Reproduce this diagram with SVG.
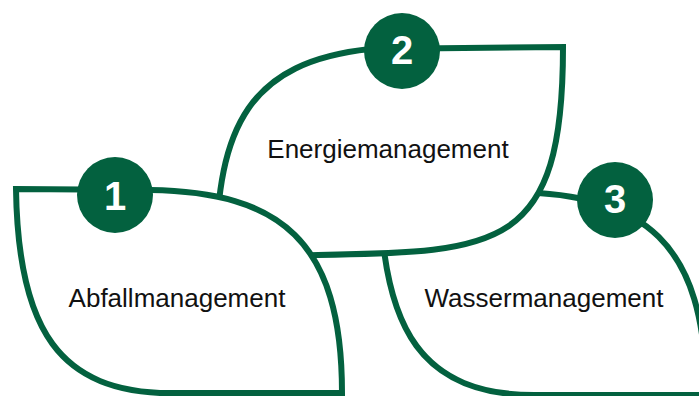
<svg xmlns="http://www.w3.org/2000/svg" width="699" height="396" viewBox="0 0 699 396">
  <style>
    .leaf { fill: #ffffff; stroke: #03613f; stroke-width: 6; stroke-linejoin: miter; }
    .badge { fill: #03613f; }
    .num { font-family: "Liberation Sans", Arial, sans-serif; font-weight: bold; font-size: 40px; fill: #ffffff; text-anchor: middle; }
    .label { font-family: "Liberation Sans", Arial, sans-serif; font-size: 26px; fill: #111111; text-anchor: middle; }
  </style>
  <rect width="699" height="396" fill="#ffffff"/>
  <g id="node-wasser">
    <path class="leaf" transform="translate(364,2)" d="M16,189 L150,190 C280,192 342,240 342,393 L170,393 C60,393 18,330 16,189 Z"/>
    <circle class="badge" cx="615" cy="200" r="38"/>
    <text class="num" x="615" y="213">3</text>
    <text class="label" x="544" y="307">Wassermanagement</text>
  </g>
  <g id="node-energie">
    <path class="leaf" d="M216,258 C217,125 250,62 370,49 L563,47 C563,250 500,252 318,255 Z"/>
    <circle class="badge" cx="402" cy="51" r="38"/>
    <text class="num" x="402" y="64">2</text>
    <text class="label" x="388" y="158">Energiemanagement</text>
  </g>
  <g id="node-abfall">
    <path class="leaf" d="M16,189 L150,190 C280,192 342,240 342,393 L170,393 C60,393 18,330 16,189 Z"/>
    <circle class="badge" cx="115" cy="195" r="38"/>
    <text class="num" x="115" y="210">1</text>
    <text class="label" x="177" y="307">Abfallmanagement</text>
  </g>
  <g id="connectors"></g>
</svg>
